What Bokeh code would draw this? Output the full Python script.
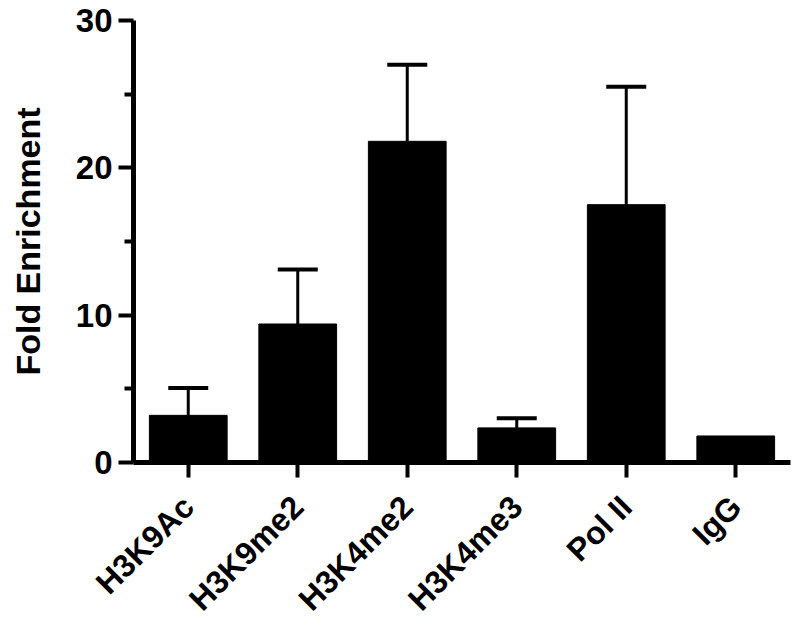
import math
from bokeh.plotting import figure
from bokeh.models import ColumnDataSource, FactorRange, Range1d, Whisker, TeeHead, FixedTicker
from bokeh.embed import file_html
from bokeh.resources import INLINE

categories = ["H3K9Ac", "H3K9me2", "H3K4me2", "H3K4me3", "Pol II", "IgG"]
means = [3.2, 9.4, 21.8, 2.35, 17.5, 1.8]
errors = [1.85, 3.7, 5.2, 0.65, 8.0, 0.0]
y_ticks = [0, 10, 20, 30]
y_minor_ticks = [5, 15, 25]

src = ColumnDataSource(dict(cat=categories, mean=means))
err_idx = [i for i, e in enumerate(errors) if e > 0]
err_src = ColumnDataSource(dict(cat=[categories[i] for i in err_idx],
                                mean=[means[i] for i in err_idx],
                                upper=[means[i] + errors[i] for i in err_idx]))

FONT = "Liberation Sans"

p = figure(x_range=FactorRange(factors=categories, range_padding=0),
           y_range=Range1d(0, 30),
           frame_width=657, frame_height=442, output_backend="svg", toolbar_location=None,
           min_border_left=133, min_border_top=20, min_border_bottom=10, min_border_right=2)
p.outline_line_color = None
p.grid.visible = False
p.background_fill_color = "white"

p.vbar(x="cat", top="mean", bottom=0, width=0.71, source=src, fill_color="black", line_color="black")

w = Whisker(base="cat", lower="mean", upper="upper", source=err_src, dimension="height",
            line_color="black", line_width=3,
            upper_head=TeeHead(size=40, line_color="black", line_width=4),
            lower_head=None)
p.add_layout(w)

# y axis
ya = p.yaxis[0]
ya.ticker = FixedTicker(ticks=y_ticks, minor_ticks=y_minor_ticks)
ya.axis_line_width = 5
ya.axis_line_color = "black"
ya.major_tick_line_width = 4
ya.major_tick_out = 15
ya.major_tick_in = 0
ya.minor_tick_line_width = 4
ya.minor_tick_out = 9
ya.minor_tick_in = 0
ya.major_label_text_font = FONT
ya.major_label_text_font_style = "bold"
ya.major_label_text_font_size = "33px"
ya.major_label_text_color = "black"
ya.major_label_standoff = 6
ya.axis_label = "Fold Enrichment"
ya.axis_label_text_font = FONT
ya.axis_label_text_font_style = "bold"
ya.axis_label_text_font_size = "34px"
ya.axis_label_text_color = "black"
ya.axis_label_standoff = 26

# x axis
xa = p.xaxis[0]
xa.axis_line_width = 5
xa.axis_line_color = "black"
xa.major_tick_line_width = 4
xa.major_tick_out = 15
xa.major_tick_in = 0
xa.minor_tick_line_color = None
xa.major_label_orientation = math.pi / 4
xa.major_label_text_font = FONT
xa.major_label_text_font_style = "bold"
xa.major_label_text_font_size = "32px"
xa.major_label_text_color = "black"
xa.major_label_standoff = 24

open("out.html", "w").write(file_html(p, INLINE))
